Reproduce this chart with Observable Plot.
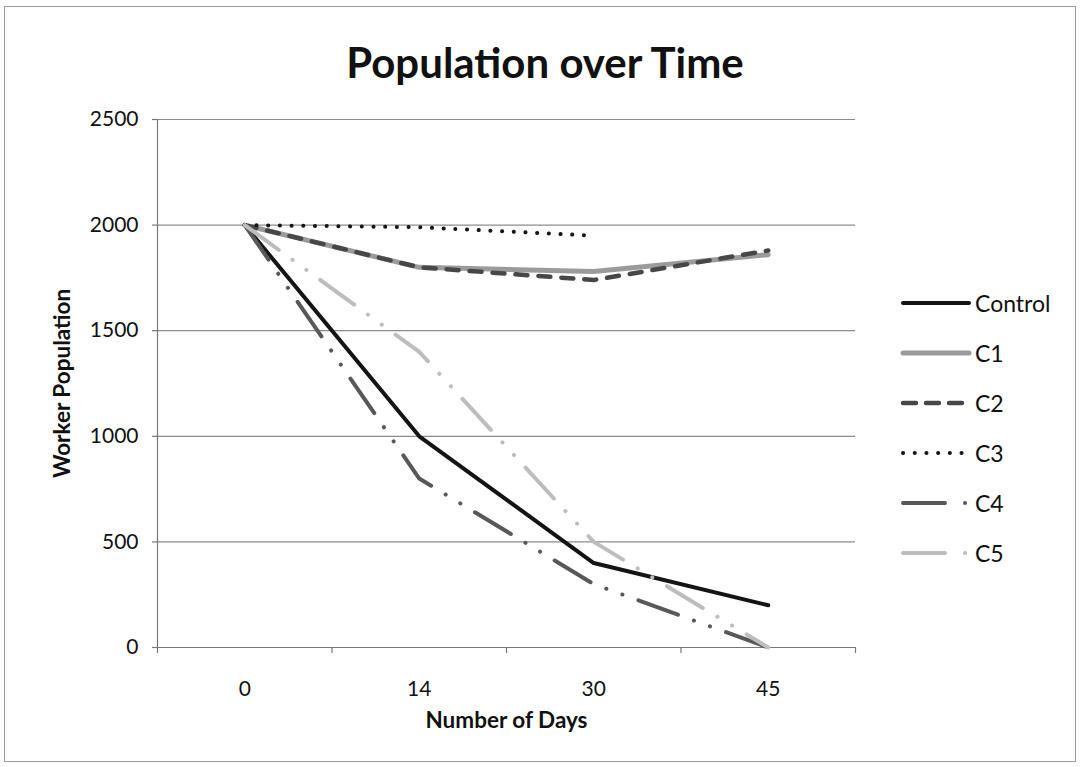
<!DOCTYPE html>
<html>
<head>
<meta charset="utf-8">
<script src="https://cdn.jsdelivr.net/npm/d3@7"></script>
<script src="https://cdn.jsdelivr.net/npm/@observablehq/plot@0.6"></script>
<style>
  html, body { margin: 0; padding: 0; background: #fff; }
  #wrap { position: relative; width: 1083px; height: 767px; overflow: hidden; font-family: Lato, "Open Sans", sans-serif; }
  #frame { position: absolute; left: 4px; top: 6px; width: 1072px; height: 756px; border: 1.5px solid #9a9a9a; box-sizing: border-box; }
  #title { position: absolute; left: 0; width: 1090px; top: 36px; text-align: center; font-weight: bold; font-size: 42px; line-height: 52px; color: #111; }
  #chart { position: absolute; left: 0; top: 0; }
  #legend { position: absolute; left: 900px; top: 278px; }
  .item { display: flex; align-items: center; height: 50px; font-size: 23px; color: #111; }
  .item svg { margin-right: 3px; }
</style>
</head>
<body>
<div id="wrap">
  <div id="frame"></div>
  <div id="chart"></div>
  <div id="title">Population over Time</div>
  <div id="legend"></div>
</div>
<script>
// ---- data ----
const days = ["0", "14", "30", "45"];
const seriesNames = ["Control", "C1", "C2", "C3", "C4", "C5"];
const control = [2000, 1000, 400, 200];
const c1 = [2000, 1800, 1780, 1860];
const c2 = [2000, 1800, 1740, 1880];
const c3 = [2000, 1990, 1950];
const c4 = [2000, 800, 300, 0];
const c5 = [2000, 1400, 500, 0];
const yTicks = [0, 500, 1000, 1500, 2000, 2500];
const yLabel = "Worker Population";
const xLabel = "Number of Days";

const seriesValues = [control, c1, c2, c3, c4, c5];
const styles = {
  Control: {stroke: "#141414", width: 4, dash: null},
  C1: {stroke: "#9b9b9b", width: 5, dash: null},
  C2: {stroke: "#474747", width: 4.5, dash: "12,11"},
  C3: {stroke: "#161616", width: 4, dash: "0.1,11.6"},
  C4: {stroke: "#585858", width: 4, dash: "42,17,0.1,17,0.1,17"},
  C5: {stroke: "#bdbdbd", width: 4, dash: "42,17,0.1,17,0.1,17"}
};

const idx = days.map((d, i) => i);
const bounds = d3.range(days.length + 1).map(i => i - 0.5);

const lineMarks = seriesNames.map((name, s) => {
  const data = seriesValues[s].map((v, i) => ({i, v}));
  const st = styles[name];
  return Plot.line(data, {
    x: "i", y: "v",
    stroke: st.stroke, strokeWidth: st.width,
    strokeDasharray: st.dash,
    strokeLinecap: "round", strokeLinejoin: "round"
  });
});

const chart = Plot.plot({
  width: 1083, height: 767,
  marginLeft: 157, marginRight: 228, marginTop: 119, marginBottom: 120,
  x: {type: "linear", domain: [-0.5, days.length - 0.5]},
  y: {domain: [0, 2500]},
  style: {fontFamily: "Lato, 'Open Sans', sans-serif", fontSize: "21px", color: "#111", background: "transparent", overflow: "visible"},
  marks: [
    Plot.gridY(yTicks, {stroke: "#8c8c8c", strokeOpacity: 1, strokeWidth: 1.2}),
    Plot.axisY(yTicks, {tickSize: 5, tickPadding: 14, label: null, stroke: "#777", strokeWidth: 1.2, fontSize: 21, tickFormat: d => String(d)}),
    Plot.axisX(bounds, {tickSize: 6, tickFormat: () => "", label: null, stroke: "#777", strokeWidth: 1.2}),
    Plot.axisX(idx, {tickSize: 0, tickPadding: 34, tickFormat: i => days[i], label: null, fontSize: 21}),
    Plot.ruleX([-0.5], {stroke: "#777", strokeWidth: 1.2}),
    Plot.ruleY([0], {stroke: "#777", strokeWidth: 1.2}),
    ...lineMarks,
    Plot.text([yLabel], {frameAnchor: "left", dx: -95, rotate: -90, fontWeight: "bold", fontSize: 22.5, textAnchor: "middle", lineAnchor: "middle", fill: "#111"}),
    Plot.text([xLabel], {frameAnchor: "bottom", dy: 73, fontWeight: "bold", fontSize: 22.5, textAnchor: "middle", lineAnchor: "middle", fill: "#111"})
  ]
});
document.getElementById("chart").appendChild(chart);

// ---- legend ----
const legend = d3.select("#legend");
seriesNames.forEach(name => {
  const st = styles[name];
  const item = legend.append("div").attr("class", "item");
  const svg = item.append("svg").attr("width", 72).attr("height", 14);
  svg.append("line")
    .attr("x1", 3).attr("x2", 69).attr("y1", 7).attr("y2", 7)
    .attr("stroke", st.stroke).attr("stroke-width", st.width)
    .attr("stroke-dasharray", st.dash ? (name === "C4" || name === "C5" ? "42,20,0.1,100" : name === "C2" ? "13,10" : st.dash) : null)
    .attr("stroke-linecap", "round");
  item.append("span").text(name);
});
</script>
</body>
</html>
